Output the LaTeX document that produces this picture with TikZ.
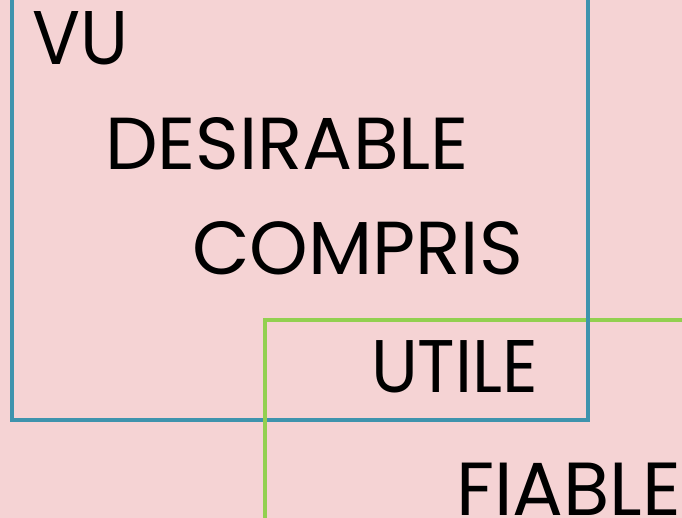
\documentclass[tikz,border=0pt]{standalone}
\usepackage{fontspec}
\setmainfont{Poppins}
\usepackage{graphicx}
\definecolor{bgpink}{HTML}{F5D3D4}
\definecolor{frameblue}{HTML}{3E93AD}
\definecolor{framegreen}{HTML}{92D050}
\tikzset{
  word/.style={anchor=base west, inner sep=0pt, outer sep=0pt, text=black},
  bluebox/.style={draw=frameblue, line width=3.2pt},
  greenbox/.style={draw=framegreen, line width=3.2pt}
}
\newcommand{\wordfit}[3]{\resizebox{#1pt}{#2pt}{\fontsize{75}{75}\selectfont #3}}
\begin{document}
\begin{tikzpicture}[x=1pt,y=1pt]
\useasboundingbox (0,0) rectangle (682,518);
\fill[bgpink] (0,0) rectangle (682,518);
\clip (0,0) rectangle (682,518);
\draw[bluebox] (12,530) -- (12,98) -- (588,98) -- (588,530);
\draw[greenbox] (265,-10) -- (265,198) -- (700,198);
\draw[bluebox] (588,185) -- (588,211);
\node[word] (vu) at (32,453) {\wordfit{96}{53}{VU}};
\node[word] (desirable) at (105,348) {\wordfit{364}{52}{DESIRABLE}};
\node[word] (compris) at (192,243) {\wordfit{331}{53}{COMPRIS}};
\node[word] (utile) at (371,125) {\wordfit{167}{52}{UTILE}};
\node[word] (fiable) at (456,2.5) {\wordfit{225}{52.5}{FIABLE}};
\end{tikzpicture}
\end{document}
